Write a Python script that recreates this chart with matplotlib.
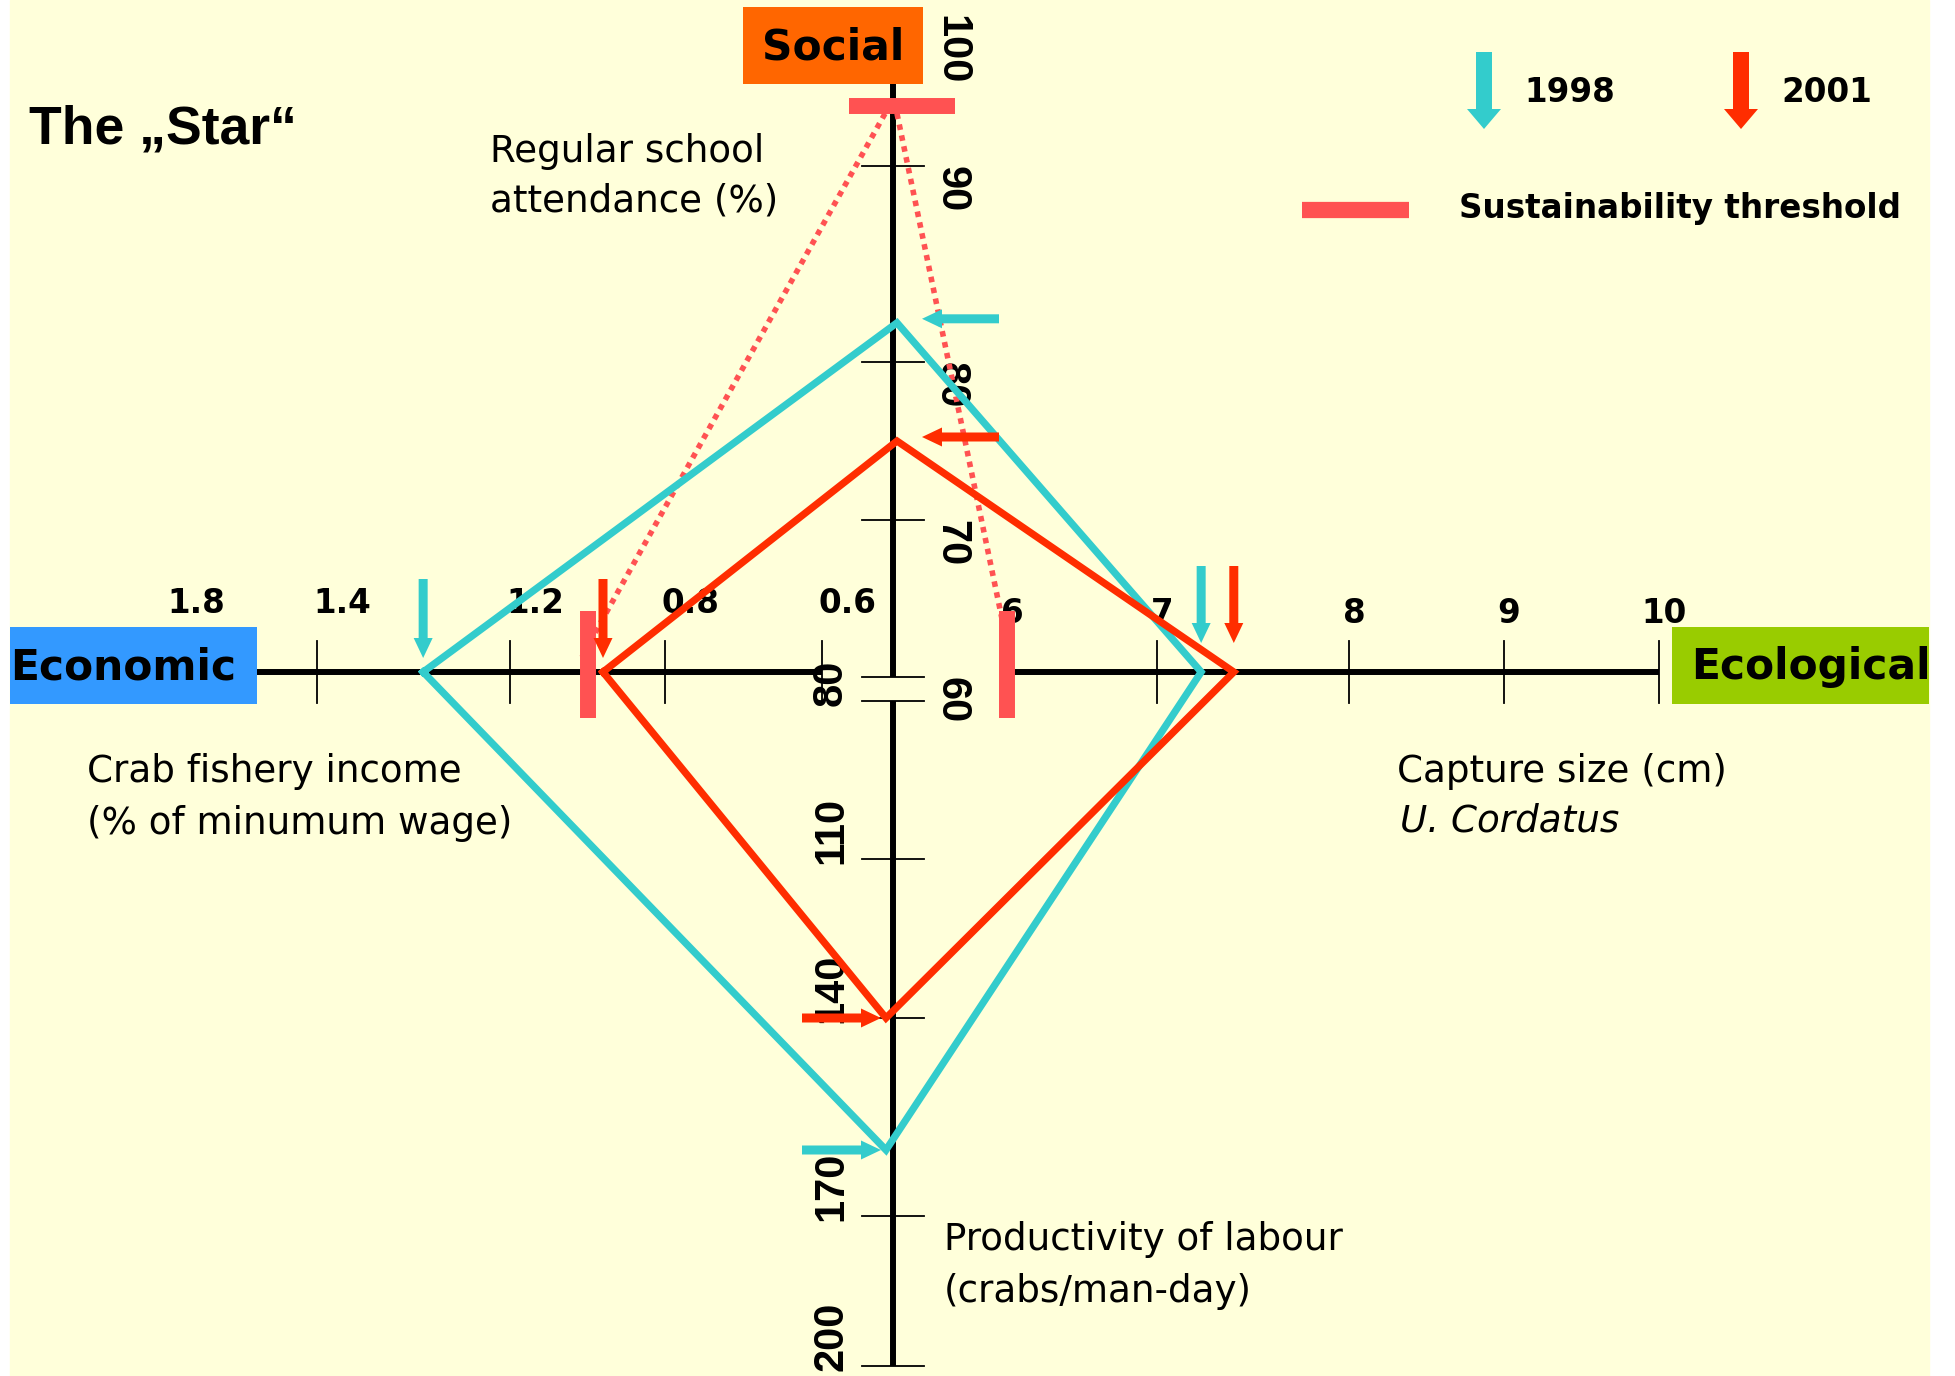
import numpy as np
import matplotlib
matplotlib.use('Agg')
import matplotlib.pyplot as plt
from matplotlib.patches import Rectangle

years = ['1998', '2001']
social_ticks = [100, 90, 80, 70, 60]      # regular school attendance (%)
econ_ticks = [1.8, 1.4, 1.2, 0.8, 0.6]    # crab fishery income
eco_ticks = [6, 7, 8, 9, 10]              # capture size (cm)
prod_ticks = [80, 110, 140, 170, 200]     # crabs / man-day

social_vals = [82, 75]
econ_vals = [1.29, 0.96]
eco_vals = [7.23, 7.4]
prod_vals = [160, 140]

thr_social = 94
thr_econ = 1.0
thr_eco = 6

# where the ticks sit on the slide (px) - the hand drawn axes are not evenly spaced
social_pos = [15, 166, 362, 520, 677]
econ_pos = [171, 317, 510, 665, 822]
eco_pos = [1007, 1157, 1349, 1504, 1659]
prod_pos = [701, 859, 1018, 1216, 1366]
AX_X, AX_Y = 893, 672

cyan = '#33CCCC'
red = '#FF2D00'
pink = '#FF5252'
colors = [cyan, red]


def to_pos(v, ticks, pos):
    t = np.asarray(ticks, float)
    p = np.asarray(pos, float)
    o = np.argsort(t)
    return np.interp(v, t[o], p[o])


plt.rcParams['font.family'] = 'DejaVu Sans'
fig = plt.figure(figsize=(19.56, 13.76), dpi=100)
ax = fig.add_axes([0, 0, 1, 1])
ax.set_xlim(0, 1956)
ax.set_ylim(1376, 0)
ax.axis('off')
ax.add_patch(Rectangle((10, 0), 1919, 1376, color='#FFFFDA', zorder=0))

# axes lines
ax.plot([econ_pos[0], econ_pos[-1]], [AX_Y, AX_Y], color='k', lw=4.3, solid_capstyle='butt', zorder=2)
ax.plot([eco_pos[0], eco_pos[-1]], [AX_Y, AX_Y], color='k', lw=4.3, solid_capstyle='butt', zorder=2)
ax.plot([AX_X, AX_X], [social_pos[0], social_pos[-1]], color='k', lw=4.3, solid_capstyle='butt', zorder=2)
ax.plot([AX_X, AX_X], [prod_pos[0], prod_pos[-1]], color='k', lw=4.3, solid_capstyle='butt', zorder=2)

# first ticks of the social / economic axes sit under the boxes
for p in econ_pos[1:] + eco_pos:
    ax.plot([p, p], [AX_Y - 31, AX_Y + 31], color='k', lw=1.3, zorder=2)
for p in social_pos[1:] + prod_pos:
    ax.plot([AX_X - 31, AX_X + 31], [p, p], color='k', lw=1.3, zorder=2)

# tick labels
for v, p in zip(econ_ticks, econ_pos):
    ax.text(p + 25, 613, f'{v:g}', ha='center', va='baseline', fontsize=23.5, weight='bold', zorder=3)
for v, p in zip(eco_ticks, eco_pos):
    ax.text(p + 5, 623, f'{v:g}', ha='center', va='baseline', fontsize=23.5, weight='bold', zorder=3)
for v, p in zip(social_ticks, social_pos):
    ax.text(951, p, str(v), rotation=-90, ha='center', va='top', family='Liberation Sans',
            weight='bold', fontsize=30, zorder=3)
for v, p in zip(prod_ticks, prod_pos):
    ax.text(831, p + 5, str(v), rotation=90, ha='center', va='bottom', family='Liberation Sans',
            weight='bold', fontsize=30, zorder=3)

# sustainability thresholds
ys_thr = to_pos(thr_social, social_ticks, social_pos)
xe_thr = to_pos(thr_econ, econ_ticks, econ_pos)
xc_thr = to_pos(thr_eco, eco_ticks, eco_pos)
ax.plot([AX_X - 8, xe_thr - 6], [ys_thr + 8, AX_Y - 15], color=pink, lw=4,
        linestyle=(0, (1, 1)), dash_capstyle='butt', zorder=3)
ax.plot([AX_X + 4, xc_thr + 5], [ys_thr + 8, AX_Y - 5], color=pink, lw=4,
        linestyle=(0, (1, 1)), dash_capstyle='butt', zorder=3)
ax.plot([AX_X - 44, AX_X + 62], [ys_thr, ys_thr], color=pink, lw=11.5, solid_capstyle='butt', zorder=4)
for x in [xe_thr, xc_thr]:
    ax.plot([x, x], [AX_Y - 61, AX_Y + 46], color=pink, lw=11.5, solid_capstyle='butt', zorder=4)

# the star for each year
for i, yr in enumerate(years):
    xe = to_pos(econ_vals[i], econ_ticks, econ_pos)
    xc = to_pos(eco_vals[i], eco_ticks, eco_pos)
    ys = to_pos(social_vals[i], social_ticks, social_pos)
    yp = to_pos(prod_vals[i], prod_ticks, prod_pos)
    ax.plot([xe, AX_X + 4, xc, AX_X - 7, xe], [AX_Y, ys, AX_Y, yp, AX_Y], color=colors[i],
            lw=5.2, solid_joinstyle='miter', zorder=5 + i)
    kw = dict(width=9, head_width=19, head_length=20, length_includes_head=True,
              fc=colors[i], ec='none', zorder=7)
    ax.arrow(xe, AX_Y - 93, 0, 79, **kw)
    ax.arrow(xc, AX_Y - 106, 0, 77, **kw)
    ax.arrow(AX_X + 106, ys - 4, -77, 0, **kw)
    ax.arrow(AX_X - 91, yp, 79, 0, **kw)

# legend
for i, yr in enumerate(years):
    lx = [1484, 1741][i]
    ax.arrow(lx, 52, 0, 77, width=16, head_width=34, head_length=20, length_includes_head=True,
             fc=colors[i], ec='none', zorder=7)
    ax.text(lx + 40, 102, yr, ha='left', va='baseline', fontsize=23.5, weight='bold')
ax.plot([1302, 1409], [210, 210], color=pink, lw=11.7, solid_capstyle='butt')
ax.text(1459, 218, 'Sustainability threshold', ha='left', va='baseline', fontsize=23.5, weight='bold')

# dimension boxes
ax.add_patch(Rectangle((743, 7), 180, 77, fc='#FF6600', ec='none', zorder=8))
ax.text(833, 47, 'Social', ha='center', va='center', fontsize=30.5, weight='bold', zorder=9)
ax.add_patch(Rectangle((10, 627), 247, 77, fc='#3399FF', ec='none', zorder=8))
ax.text(123, 667, 'Economic', ha='center', va='center', fontsize=30.5, weight='bold', zorder=9)
ax.add_patch(Rectangle((1672, 627), 257, 77, fc='#99CC00', ec='none', zorder=8))
ax.text(1811, 667, 'Ecological', ha='center', va='center', fontsize=30.5, weight='bold', zorder=9)

# titles and axis descriptions
ax.text(29, 143, 'The \u201eStar\u201c', family='Liberation Sans', weight='bold', fontsize=38.5,
        ha='left', va='baseline')
fs = 26.8
ax.text(490, 151, 'Regular school', ha='left', va='center', fontsize=fs)
ax.text(490, 201, 'attendance (%)', ha='left', va='center', fontsize=fs)
ax.text(87, 771, 'Crab fishery income', ha='left', va='center', fontsize=fs)
ax.text(87, 823, '(% of minumum wage)', ha='left', va='center', fontsize=fs)
ax.text(1397, 771, 'Capture size (cm)', ha='left', va='center', fontsize=fs)
ax.text(1400, 821, 'U. Cordatus', ha='left', va='center', fontsize=fs, style='italic')
ax.text(944, 1240, 'Productivity of labour', ha='left', va='center', fontsize=fs)
ax.text(944, 1291, '(crabs/man-day)', ha='left', va='center', fontsize=fs)

fig.savefig('out.png', dpi=100)
